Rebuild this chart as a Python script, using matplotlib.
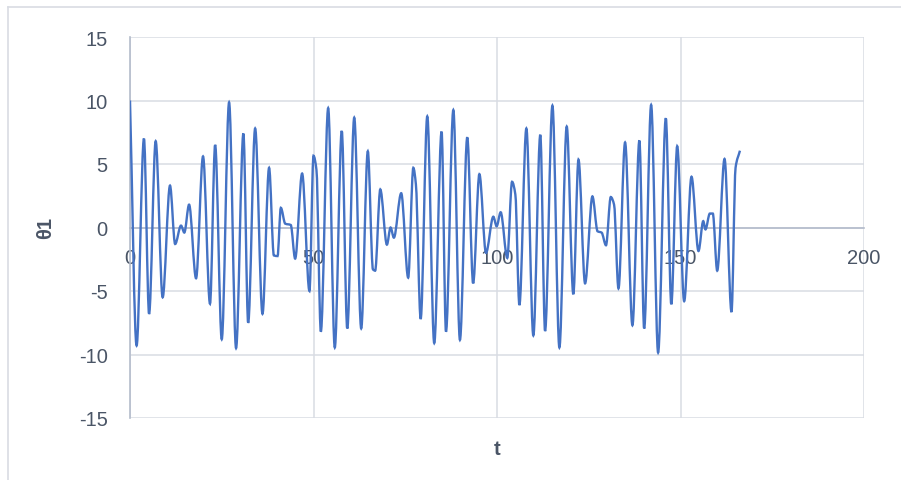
import numpy as np
import matplotlib
matplotlib.use("Agg")
import matplotlib.pyplot as plt
from matplotlib.path import Path
from matplotlib.patches import PathPatch
from matplotlib.lines import Line2D

# turning points of theta1 (t, value)
t = [0, 1.8, 3.8, 5.2, 7.0, 8.9, 10.9, 12.3, 13.9, 14.8, 16.1, 18.0, 19.9, 21.8,
     23.2, 25.0, 27.0, 28.9, 30.9, 32.2, 34.1, 36.1, 37.9, 39.2, 40.2, 41.1,
     42.3, 43.8, 45.0, 46.9, 48.9, 50.0, 50.8, 52.0, 54.0, 55.8, 57.7, 59.2,
     61.1, 63.0, 64.8, 66.2, 66.8, 68.2, 70.0, 71.0, 71.9, 73.9, 75.8, 77.2,
     77.9, 79.2, 81.0, 82.9, 84.9, 86.1, 88.1, 89.9, 91.9, 93.5, 95.2, 97.0,
     99.0, 99.9, 101.0, 102.8, 104.1, 105.0, 106.1, 108.0, 109.9, 111.8, 113.1,
     115.1, 117.0, 119.0, 120.8, 122.2, 124.0, 126.0, 127.4, 128.5, 129.7,
     131.0, 131.9, 133.1, 134.9, 136.9, 138.8, 140.1, 142.0, 143.9, 146.0,
     147.5, 149.1, 151.0, 153.0, 154.9, 156.2, 156.8, 158.0, 158.8, 160.0,
     162.0, 163.9, 165.0, 166.2]
theta1 = [10.0, -9.3, 7.0, -6.8, 6.8, -5.5, 3.3, -1.3, 0.15, -0.4, 1.8, -4.0,
          5.6, -6.0, 6.5, -8.8, 9.85, -9.5, 7.4, -7.5, 7.8, -6.8, 4.7, -2.2,
          -2.25, 1.55, 0.3, 0.2, -2.45, 4.25, -5.0, 5.65, 4.55, -8.2, 9.4,
          -9.45, 7.6, -7.95, 8.65, -7.95, 6.0, -3.3, -3.4, 3.0, -1.35, 0.0,
          -0.8, 2.7, -3.95, 4.7, 3.4, -7.2, 8.75, -9.1, 7.55, -8.2, 9.25,
          -8.85, 7.1, -4.4, 4.2, -2.0, 0.85, 0.1, 1.2, -2.4, 3.6, 2.6, -6.1,
          7.8, -8.5, 7.3, -8.15, 9.6, -9.45, 7.95, -5.25, 5.35, -4.4, 2.45,
          -0.3, -0.4, -1.4, 2.4, 1.8, -4.8, 6.7, -7.7, 6.85, -7.95, 9.65,
          -9.85, 8.6, -6.05, 6.4, -5.8, 4.0, -1.85, 0.5, -0.15, 1.1, 1.1,
          -3.4, 5.4, -6.65, 4.7, 6.05]

x_ticks = [0, 50, 100, 150, 200]
y_ticks = [-15, -10, -5, 0, 5, 10, 15]

line_color = "#4472C4"
grid_color = "#D9DCE3"
axis_color = "#B4BCCB"
text_color = "#4A5566"


def smooth_path(x, y):
    # smoothed line like Excel: cubic bezier pieces with monotone slopes
    x = np.asarray(x, float)
    y = np.asarray(y, float)
    h = np.diff(x)
    d = np.diff(y) / h
    m = np.zeros_like(y)
    m[0], m[-1] = d[0], d[-1]
    for k in range(1, len(y) - 1):
        if d[k - 1] * d[k] > 0:
            w1 = 2 * h[k] + h[k - 1]
            w2 = h[k] + 2 * h[k - 1]
            m[k] = (w1 + w2) / (w1 / d[k - 1] + w2 / d[k])
    verts = [(x[0], y[0])]
    codes = [Path.MOVETO]
    for k in range(len(x) - 1):
        verts += [(x[k] + h[k] / 3, y[k] + m[k] * h[k] / 3),
                  (x[k + 1] - h[k] / 3, y[k + 1] - m[k + 1] * h[k] / 3),
                  (x[k + 1], y[k + 1])]
        codes += [Path.CURVE4] * 3
    return Path(verts, codes)


plt.rcParams["font.family"] = ["Liberation Sans", "DejaVu Sans"]
plt.rcParams["axes.unicode_minus"] = False

fig = plt.figure(figsize=(9.01, 4.81), dpi=100)
ax = fig.add_axes([130 / 901, 1 - 419 / 481, (864 - 130) / 901, (419 - 38) / 481])

ax.add_patch(PathPatch(smooth_path(t, theta1), fill=False,
                       edgecolor=line_color, linewidth=1.7, zorder=3))

ax.set_xlim(0, 200)
ax.set_ylim(-15, 15)
ax.set_xticks(x_ticks)
ax.set_yticks(y_ticks)
ax.grid(True, color=grid_color, linewidth=1.1)
ax.set_axisbelow(True)

for s in ["top", "right"]:
    ax.spines[s].set_visible(False)
ax.spines["bottom"].set_position(("data", 0))
ax.spines["bottom"].set_color(axis_color)
ax.spines["bottom"].set_linewidth(1.2)
ax.spines["left"].set_color(axis_color)
ax.spines["left"].set_linewidth(1.2)
ax.spines["bottom"].set_zorder(2)

ax.tick_params(axis="both", length=0, labelsize=14.5, labelcolor=text_color)
ax.tick_params(axis="x", pad=15)
ax.tick_params(axis="y", pad=16)

ax.set_xlabel("t", fontsize=14.5, fontweight="bold", color=text_color)
ax.xaxis.set_label_coords(0.5, -0.055)
ax.set_ylabel("θ1", fontsize=14.5, fontweight="bold", color=text_color)
ax.yaxis.set_label_coords(-0.102, 0.5)

# chart frame (cut off at right and bottom)
fig.add_artist(Line2D([8 / 901, 8 / 901], [0, 1 - 8 / 481], color=grid_color, lw=1.2))
fig.add_artist(Line2D([8 / 901, 1], [1 - 8 / 481, 1 - 8 / 481], color=grid_color, lw=1.2))

fig.savefig("out.png", dpi=100)
